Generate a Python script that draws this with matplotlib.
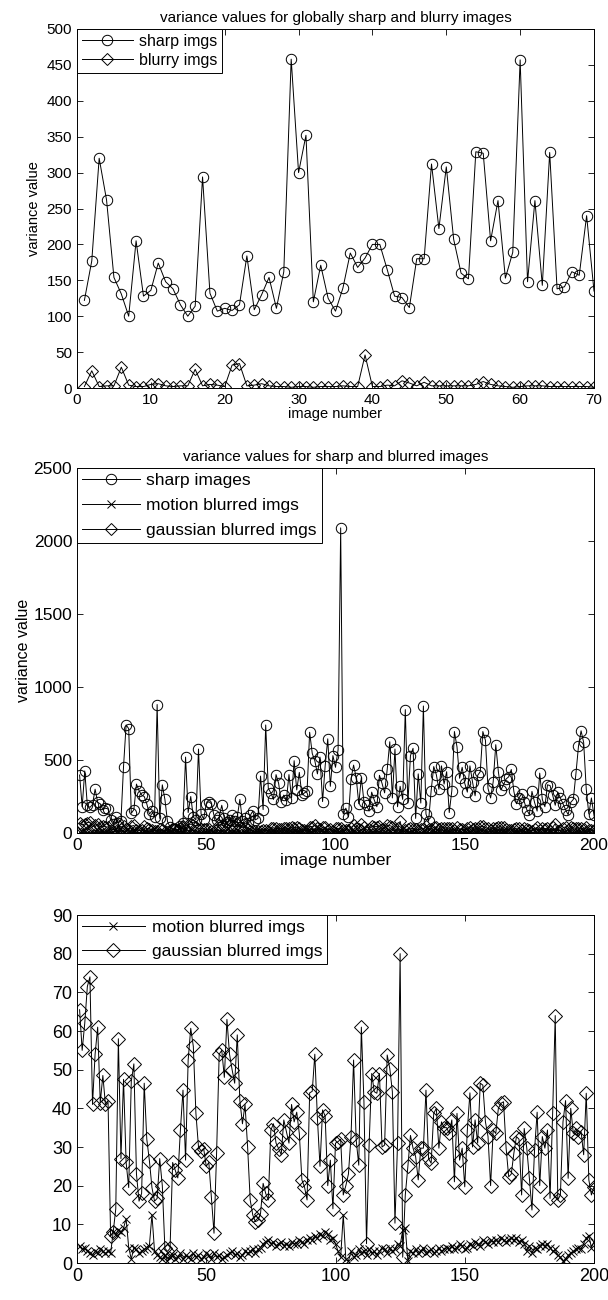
import numpy as np
import matplotlib.pyplot as plt

plt.rcParams['font.family'] = ['Liberation Sans', 'DejaVu Sans']

# panel 1: globally sharp vs blurry, 70 images
sharp1 = [122, 177, 320, 262, 154, 131, 100, 205, 128, 136,
          174, 148, 138, 116, 100, 114, 294, 132, 107, 111,
          108, 116, 184, 109, 130, 154, 111, 162, 458, 300,
          352, 120, 171, 125, 107, 139, 188, 168, 181, 200,
          200, 165, 128, 126, 112, 180, 180, 312, 222, 308,
          207, 160, 152, 329, 327, 205, 261, 153, 189, 457,
          148, 261, 143, 328, 138, 141, 162, 157, 240, 135]
blurry1 = [2, 24, 2, 3, 3, 29, 4, 2, 2, 5,
           6, 3, 2, 3, 3, 26, 3, 5, 4, 2,
           32, 34, 3, 4, 6, 3, 2, 2, 1, 2,
           2, 1, 2, 2, 2, 3, 2, 2, 46, 2,
           2, 4, 3, 10, 7, 3, 8, 3, 3, 3,
           3, 3, 3, 5, 9, 5, 3, 2, 1, 2,
           3, 3, 3, 2, 2, 2, 2, 2, 2, 1]

# panels 2 and 3: 200 images
sharp2 = [397, 180, 425, 190, 175, 195, 300, 210, 200, 160,
          170, 165, 90, 60, 110, 70, 85, 455, 740, 715,
          135, 160, 335, 290, 260, 250, 200, 130, 150, 110,
          880, 100, 330, 230, 80, 40, 25, 30, 20, 45,
          70, 520, 140, 250, 110, 90, 575, 130, 95, 200,
          215, 200, 120, 90, 110, 190, 100, 75, 90, 120,
          80, 110, 230, 85, 100, 70, 120, 150, 90, 100,
          390, 160, 740, 305, 275, 230, 400, 340, 215, 260,
          225, 400, 240, 495, 295, 415, 260, 275, 285, 690,
          545, 495, 405, 520, 215, 460, 645, 320, 530, 450,
          570, 2090, 130, 170, 110, 370, 465, 380, 200, 380,
          215, 190, 150, 280, 225, 180, 395, 340, 275, 435,
          625, 240, 575, 180, 320, 230, 845, 205, 530, 580,
          100, 405, 205, 870, 130, 80, 290, 455, 400, 300,
          460, 335, 420, 140, 290, 695, 590, 375, 450, 340,
          280, 460, 350, 255, 395, 420, 695, 635, 305, 240,
          350, 605, 420, 295, 330, 370, 385, 435, 285, 200,
          240, 270, 215, 160, 125, 285, 210, 150, 410, 230,
          180, 330, 325, 260, 190, 280, 240, 200, 160, 125,
          210, 230, 405, 595, 700, 620, 300, 130, 240, 120]
motion = [4.5, 3.5, 4, 3, 2.5, 2, 3, 2.5, 3.5, 3,
          2.5, 3, 2.5, 8, 7.5, 8.5, 8, 9, 11.5, 4,
          1, 4, 3.5, 2.5, 3, 3.5, 4, 4.5, 12.5, 3,
          2, 1.5, 1, 2, 0.5, 1.5, 2, 1, 1.5, 2.5,
          1, 2, 1.5, 1, 2.5, 1.5, 2, 1, 1.5, 2.5,
          2, 1, 2.5, 1.5, 2, 1, 1.5, 2, 2.5, 3,
          2, 2.5, 1.5, 2, 3, 2.5, 3, 3.5, 2.5, 3.5,
          4, 5, 5.5, 6, 5, 5.5, 4.5, 5, 5.5, 4.5,
          5, 4.5, 5.5, 5, 5, 6, 5.5, 5, 6, 6.5,
          6, 7, 6.5, 7.5, 7, 8, 7.5, 6, 6.5, 5,
          3, 1.5, 12.5, 1, 0.5, 3, 1.5, 2, 3.5, 2.5,
          3, 2, 3.5, 2.5, 3, 2, 3, 4, 3.5, 2.5,
          4, 3, 3.5, 5, 4.5, 8.5, 9, 0.5, 3, 2.5,
          3.5, 2.5, 3, 4, 2.5, 3, 3.5, 2.5, 3, 4,
          3, 3.5, 4, 3.5, 4.5, 3.5, 4, 5, 4.5, 3.5,
          4, 5, 4.5, 5.5, 5, 4.5, 6, 5.5, 5, 6,
          5.5, 6, 5.5, 6.5, 6, 5.5, 6, 6.5, 6, 6.5,
          5.5, 6, 5, 3, 4.5, 2.5, 4, 3.5, 4.5, 5,
          4.5, 5, 4, 3, 3.5, 2, 1.5, 0.5, 1, 2,
          2.5, 3, 3.5, 4, 3.5, 5, 6.5, 7, 4, 5.5]
gauss = [65.5, 55, 62, 71.5, 74, 41, 54, 61, 41.5, 48.5,
         41, 42, 7, 8, 14, 58, 27, 47.5, 26, 19.5,
         47, 51.5, 23, 16, 18, 46.5, 32, 26.5, 19.5, 16,
         16.7, 27, 20, 3.8, 3, 3.8, 26, 24, 22, 34.4,
         44.7, 26.6, 52.5, 60.7, 56, 38.7, 30, 29, 29.6, 25,
         26, 17, 7.7, 28.4, 54, 55, 48, 63, 54, 50,
         46.5, 59, 42, 36, 41, 30, 16.3, 12.4, 10.7, 11,
         12.8, 20.6, 18, 16.3, 34.4, 36, 31, 29.6, 28, 37,
         34, 31, 41, 36.5, 39, 33.5, 21.5, 19.7, 16.3, 44,
         44.4, 54, 37.4, 25, 39.6, 38, 20, 26.6, 14, 31,
         31.4, 32, 17.6, 20, 23, 32.7, 52.5, 31.8, 25.3, 61,
         41.7, 5, 30.5, 49, 44.3, 43.9, 49, 30, 30.5, 53.8,
         50.3, 44.3, 10.3, 31, 80, 1.5, 17.6, 25, 33, 29.7,
         27.5, 21.5, 29.7, 29.7, 44.7, 27, 25.8, 38.7, 40, 29.7,
         36.5, 35, 35, 33.5, 37, 21, 38.7, 26.6, 29.7, 19.7,
         34.4, 44, 30, 37, 31, 46.5, 46, 36.5, 32.7, 20,
         34.4, 33.5, 40, 41.3, 41.7, 29.7, 22.3, 23, 28.4, 32.7,
         32, 17.6, 34.8, 29.7, 21.9, 13.7, 29.2, 39, 20, 32.7,
         29.7, 34.4, 16.7, 38.7, 64, 16.3, 17.6, 36.5, 42, 21.9,
         40, 33.5, 34.8, 32.7, 34, 28, 43.9, 21.5, 17.6, 19.7]

x1 = np.arange(1, len(sharp1) + 1)
x2 = np.arange(1, len(sharp2) + 1)

fig = plt.figure(figsize=(6.08, 13.0), dpi=100)
W, H = 608.0, 1300.0


def box(l, t, r, b):
    return [l / W, 1 - b / H, (r - l) / W, (b - t) / H]


def style(ax, fs):
    ax.tick_params(direction='in', top=True, right=True, labelsize=fs, length=4, width=0.6)
    for s in ax.spines.values():
        s.set_linewidth(0.7)


def leg(ax, fs, hl, sp):
    lg = ax.legend(loc='upper left', borderaxespad=0, fancybox=False, edgecolor='k',
                   framealpha=1, fontsize=fs, handlelength=hl, handletextpad=0.4,
                   labelspacing=sp, borderpad=0.3)
    lg.get_frame().set_linewidth(0.7)


lw = 0.7
# ---- panel 1
ax1 = fig.add_axes(box(77, 29, 594, 388))
ax1.plot(x1, sharp1, 'k-', lw=lw, marker='o', mfc='none', ms=7.5, mew=0.7, label='sharp imgs')
ax1.plot(x1, blurry1, 'k-', lw=lw, marker='D', mfc='none', ms=6.5, mew=0.7, label='blurry imgs')
ax1.set_xlim(0, 70)
ax1.set_ylim(0, 500)
ax1.set_xticks(range(0, 71, 10))
ax1.set_yticks(range(0, 501, 50))
ax1.set_title('variance values for globally sharp and blurry images', fontsize=11, pad=5)
ax1.set_xlabel('image number', fontsize=10.5, labelpad=0)
ax1.set_ylabel('variance value', fontsize=10.5, labelpad=4)
style(ax1, 11)
leg(ax1, 11.5, 3.2, 0.25)

# ---- panel 2
ax2 = fig.add_axes(box(77, 468, 594, 833))
ax2.plot(x2, sharp2, 'k-', lw=lw, marker='o', mfc='none', ms=7.5, mew=0.7, label='sharp images')
ax2.plot(x2, motion, 'k-', lw=lw, marker='x', ms=5.5, mew=0.7, label='motion blurred imgs')
ax2.plot(x2, gauss, 'k-', lw=lw, marker='D', mfc='none', ms=6.5, mew=0.7, label='gaussian blurred imgs')
ax2.set_xlim(0, 200)
ax2.set_ylim(0, 2500)
ax2.set_xticks(range(0, 201, 50))
ax2.set_yticks(range(0, 2501, 500))
ax2.set_title('variance values for sharp and blurred images', fontsize=11, pad=5)
ax2.set_xlabel('image number', fontsize=12.5, labelpad=0)
ax2.set_ylabel('variance value', fontsize=11.5, labelpad=2)
style(ax2, 12.5)
leg(ax2, 12.5, 3.3, 0.55)

# ---- panel 3
ax3 = fig.add_axes(box(77, 915, 594, 1263))
ax3.plot(x2, motion, 'k-', lw=lw, marker='x', ms=5.5, mew=0.7, label='motion blurred imgs')
ax3.plot(x2, gauss, 'k-', lw=lw, marker='D', mfc='none', ms=7, mew=0.7, label='gaussian blurred imgs')
ax3.set_xlim(0, 200)
ax3.set_ylim(0, 90)
ax3.set_xticks(range(0, 201, 50))
ax3.set_yticks(range(0, 91, 10))
style(ax3, 13)
leg(ax3, 12.5, 3.6, 0.5)

fig.savefig('out.png', dpi=100)
